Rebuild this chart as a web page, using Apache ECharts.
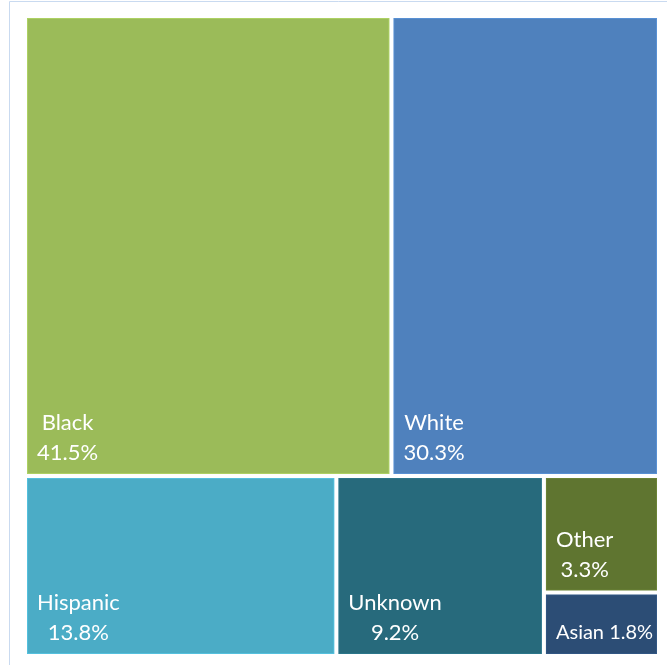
<!DOCTYPE html>
<html>
<head>
<meta charset="utf-8">
<script src="https://cdn.jsdelivr.net/npm/echarts@6/dist/echarts.min.js"></script>
<style>
html,body{margin:0;padding:0;background:#fff;}
#chart{width:667px;height:665px;}
</style>
</head>
<body>
<div id="chart"></div>
<script>
const categories = ['Black', 'White', 'Hispanic', 'Unknown', 'Other', 'Asian'];
const shares = [41.5, 30.3, 13.8, 9.2, 3.3, 1.8];
const colors = ['#9BBB59', '#4F81BD', '#4BACC6', '#276A7C', '#5F7530', '#2C4D75'];
const singleLineLabels = ['Asian'];

const FONT_SIZE = 22;
const SMALL_FONT_SIZE = 20;
const LINE_H = 30;
const FONT_FAMILY = 'Lato';
const PAD_LEFT = 9;
const PAD_BOTTOM = 5;

const measureCtx = document.createElement('canvas').getContext('2d');

function labelLines(name, value) {
  const pct = value.toFixed(1) + '%';
  return singleLineLabels.indexOf(name) >= 0 ? [name + ' ' + pct] : [name, pct];
}

const data = categories.map((name, i) => {
  const lines = labelLines(name, shares[i]);
  const fs = lines.length === 1 ? SMALL_FONT_SIZE : FONT_SIZE;
  measureCtx.font = fs + 'px ' + FONT_FAMILY;
  let w = 0;
  lines.forEach(l => { w = Math.max(w, measureCtx.measureText(l).width); });
  return {
    name: name,
    value: shares[i],
    itemStyle: { color: colors[i], borderColor: echarts.color.lift(colors[i], -0.12) },
    label: { fontSize: fs, offset: [PAD_LEFT + w / 2, -(lines.length * LINE_H + PAD_BOTTOM)] }
  };
});

const chart = echarts.init(document.getElementById('chart'), null, { renderer: 'canvas' });
chart.setOption({
  animation: false,
  graphic: [
    { type: 'line', shape: { x1: 9.5, y1: 1.5, x2: 9.5, y2: 665 }, style: { stroke: '#C9DAF0', lineWidth: 1 } },
    { type: 'line', shape: { x1: 9.5, y1: 1.5, x2: 667, y2: 1.5 }, style: { stroke: '#C9DAF0', lineWidth: 1 } }
  ],
  series: [{
    type: 'treemap',
    left: 27,
    top: 18,
    right: 10,
    bottom: 11,
    roam: false,
    nodeClick: false,
    breadcrumb: { show: false },
    itemStyle: { borderWidth: 0, gapWidth: 4 },
    levels: [
      { itemStyle: { borderWidth: 0, gapWidth: 4 } },
      { itemStyle: { borderWidth: 1, gapWidth: 0 } }
    ],
    label: {
      show: true,
      position: ['0%', '100%'],
      align: 'center',
      verticalAlign: 'top',
      padding: 0,
      overflow: 'none',
      color: '#fff',
      fontFamily: FONT_FAMILY,
      fontSize: FONT_SIZE,
      lineHeight: LINE_H,
      formatter: function (p) {
        return labelLines(p.name, p.value).join('\n');
      }
    },
    emphasis: { disabled: true },
    data: data
  }]
});
</script>
</body>
</html>
